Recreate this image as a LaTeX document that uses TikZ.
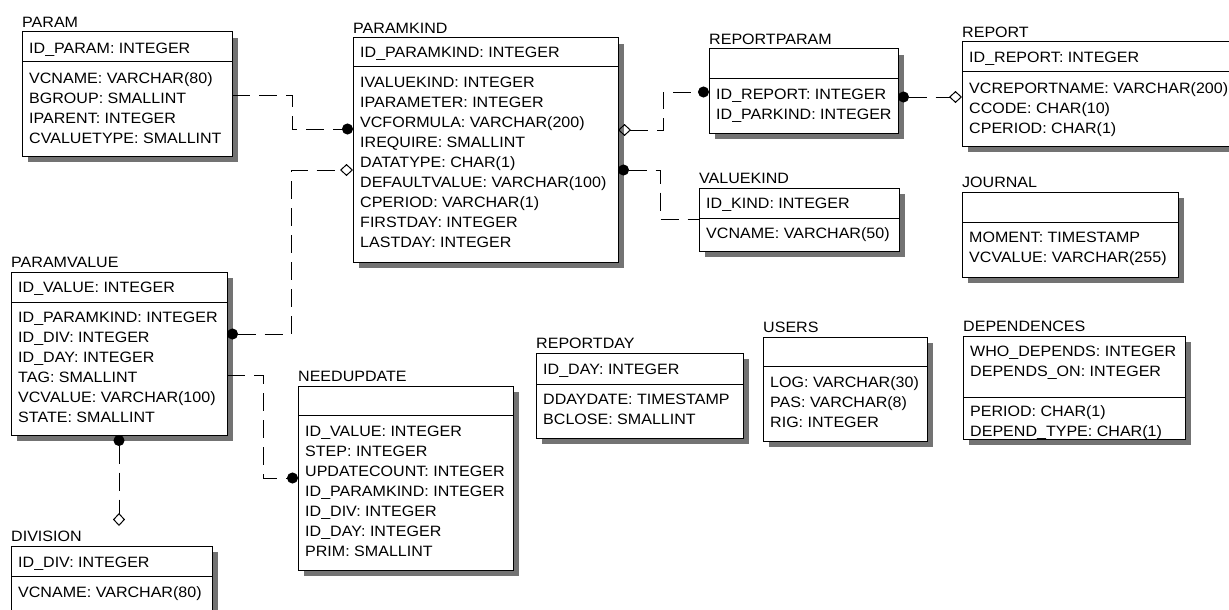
\documentclass[tikz,border=0pt]{standalone}
\usepackage{fontspec}
\setmainfont{Liberation Sans}[FakeStretch=1.07]
\usetikzlibrary{arrows.meta}
\tikzset{
 tblbox/.style={draw=black, fill=white, line width=1pt, inner sep=0pt, outer sep=0pt},
 sepline/.style={line width=1pt},
 shadowc/.style={fill=black!55},
 rowtext/.style={anchor=west, inner sep=0pt, text height=10.7pt, text depth=0pt, font=\fontsize{15}{18}\selectfont},
 titletext/.style={rowtext},
 rel/.style={line width=1pt, dash pattern=on 18pt off 9pt},
 pkdot/.tip={Circle[length=11pt]},
 pkdia/.tip={Diamond[open,length=13pt,width=12pt]},
}
\newcommand\erTable[7]{%
 \fill[shadowc] (#2+6,#3+6) rectangle (#4+6,#6+6);
 \node[tblbox, minimum width=#4-#2, minimum height=#6-#3, anchor=north west] (#1) at (#2,#3) {};
 \draw[sepline] (#2,#5) -- (#4,#5);
 \node[titletext] (#1-title) at (#2,#3-10) {#7};
}
\begin{document}
\begin{tikzpicture}[x=1pt,y=-1pt]
\useasboundingbox (0,0) rectangle (1229,610);
\fill[white] (0,0) rectangle (1229,610);
\clip (0,0) rectangle (1229,610);

% PARAM
\erTable{param}{22}{32}{232}{62}{156}{PARAM}
\node[rowtext] (param-k1) at (29,48) {ID\_PARAM: INTEGER};
\node[rowtext] (param-r1) at (29,78) {VCNAME: VARCHAR(80)};
\node[rowtext] (param-r2) at (29,98) {BGROUP: SMALLINT};
\node[rowtext] (param-r3) at (29,118) {IPARENT: INTEGER};
\node[rowtext] (param-r4) at (29,138) {CVALUETYPE: SMALLINT};

% PARAMKIND
\erTable{pk}{353}{38}{618}{67}{262}{PARAMKIND}
\node[rowtext] (pk-k1) at (360,52) {ID\_PARAMKIND: INTEGER};
\node[rowtext] (pk-r1) at (360,82) {IVALUEKIND: INTEGER};
\node[rowtext] (pk-r2) at (360,102) {IPARAMETER: INTEGER};
\node[rowtext] (pk-r3) at (360,122) {VCFORMULA: VARCHAR(200)};
\node[rowtext] (pk-r4) at (360,142) {IREQUIRE: SMALLINT};
\node[rowtext] (pk-r5) at (360,162) {DATATYPE: CHAR(1)};
\node[rowtext] (pk-r6) at (360,182) {DEFAULTVALUE: VARCHAR(100)};
\node[rowtext] (pk-r7) at (360,202) {CPERIOD: VARCHAR(1)};
\node[rowtext] (pk-r8) at (360,222) {FIRSTDAY: INTEGER};
\node[rowtext] (pk-r9) at (360,242) {LASTDAY: INTEGER};

% REPORTPARAM
\erTable{rp}{709}{49}{898}{79}{133}{REPORTPARAM}
\node[rowtext] (rp-r1) at (716,94) {ID\_REPORT: INTEGER};
\node[rowtext] (rp-r2) at (716,114) {ID\_PARKIND: INTEGER};

% REPORT
\erTable{rep}{962}{42}{1240}{72}{146}{REPORT}
\node[rowtext] (rep-k1) at (969,57) {ID\_REPORT: INTEGER};
\node[rowtext] (rep-r1) at (969,88) {VCREPORTNAME: VARCHAR(200)};
\node[rowtext] (rep-r2) at (969,108) {CCODE: CHAR(10)};
\node[rowtext] (rep-r3) at (969,128) {CPERIOD: CHAR(1)};

% JOURNAL
\erTable{jr}{962}{192}{1178}{222}{277}{JOURNAL}
\node[rowtext] (jr-r1) at (969,237) {MOMENT: TIMESTAMP};
\node[rowtext] (jr-r2) at (969,257) {VCVALUE: VARCHAR(255)};

% VALUEKIND
\erTable{vk}{699}{188}{899}{218}{251}{VALUEKIND}
\node[rowtext] (vk-k1) at (706,203) {ID\_KIND: INTEGER};
\node[rowtext] (vk-r1) at (706,233) {VCNAME: VARCHAR(50)};

% PARAMVALUE
\erTable{pv}{11}{272}{227}{302}{435}{PARAMVALUE}
\node[rowtext] (pv-k1) at (18,287) {ID\_VALUE: INTEGER};
\node[rowtext] (pv-r1) at (18,317) {ID\_PARAMKIND: INTEGER};
\node[rowtext] (pv-r2) at (18,337) {ID\_DIV: INTEGER};
\node[rowtext] (pv-r3) at (18,357) {ID\_DAY: INTEGER};
\node[rowtext] (pv-r4) at (18,377) {TAG: SMALLINT};
\node[rowtext] (pv-r5) at (18,397) {VCVALUE: VARCHAR(100)};
\node[rowtext] (pv-r6) at (18,417) {STATE: SMALLINT};

% NEEDUPDATE
\erTable{nu}{298}{386}{513}{415}{570}{NEEDUPDATE}
\node[rowtext] (nu-r1) at (305,431) {ID\_VALUE: INTEGER};
\node[rowtext] (nu-r2) at (305,451) {STEP: INTEGER};
\node[rowtext] (nu-r3) at (305,471) {UPDATECOUNT: INTEGER};
\node[rowtext] (nu-r4) at (305,491) {ID\_PARAMKIND: INTEGER};
\node[rowtext] (nu-r5) at (305,511) {ID\_DIV: INTEGER};
\node[rowtext] (nu-r6) at (305,531) {ID\_DAY: INTEGER};
\node[rowtext] (nu-r7) at (305,551) {PRIM: SMALLINT};

% DIVISION
\erTable{div}{11}{546}{212}{576}{625}{DIVISION}
\node[rowtext] (div-k1) at (18,562) {ID\_DIV: INTEGER};
\node[rowtext] (div-r1) at (18,592) {VCNAME: VARCHAR(80)};

% REPORTDAY
\erTable{rd}{536}{353}{743}{384}{438}{REPORTDAY}
\node[rowtext] (rd-k1) at (543,369) {ID\_DAY: INTEGER};
\node[rowtext] (rd-r1) at (543,399) {DDAYDATE: TIMESTAMP};
\node[rowtext] (rd-r2) at (543,419) {BCLOSE: SMALLINT};

% USERS
\erTable{us}{763}{337}{927}{366}{441}{USERS}
\node[rowtext] (us-r1) at (770,382) {LOG: VARCHAR(30)};
\node[rowtext] (us-r2) at (770,402) {PAS: VARCHAR(8)};
\node[rowtext] (us-r3) at (770,422) {RIG: INTEGER};

% DEPENDENCES
\erTable{dep}{963}{336}{1185}{397}{439}{DEPENDENCES}
\node[rowtext] (dep-k1) at (970,351) {WHO\_DEPENDS: INTEGER};
\node[rowtext] (dep-k2) at (970,371) {DEPENDS\_ON: INTEGER};
\node[rowtext] (dep-r1) at (970,411) {PERIOD: CHAR(1)};
\node[rowtext] (dep-r2) at (970,431) {DEPEND\_TYPE: CHAR(1)};

% connection points
\coordinate (a1) at ([yshift=-63pt]param.north east);
\coordinate (b1) at ([yshift=-91pt]pk.north west);
\coordinate (a2) at ([yshift=-62pt]pv.north east);
\coordinate (b2) at ([yshift=-132pt]pk.north west);
\coordinate (a3) at ([yshift=-92pt]pk.north east);
\coordinate (b3) at ([yshift=-43pt]rp.north west);
\coordinate (a4) at ([yshift=-132pt]pk.north east);
\coordinate (b4) at ([yshift=-31pt]vk.north west);
\coordinate (a5) at ([yshift=-48pt]rp.north east);
\coordinate (b5) at ([yshift=-55pt]rep.north west);
\coordinate (a6) at ([yshift=-103pt]pv.north east);
\coordinate (b6) at ([yshift=-92pt]nu.north west);
\coordinate (a7) at ([xshift=108pt]pv.south west);
\coordinate (b7) at ([xshift=108pt,yshift=20pt]div.north west);

% relationships
\draw[rel, -pkdot] (a1) -- ++(60,0) |- (b1);
\draw[rel, pkdot-pkdia] (a2) -- ++(64,0) |- (b2);
\draw[rel, pkdia-pkdot] (a3) -- ++(45,0) |- (b3);
\draw[rel, pkdot-] (a4) -- ++(42,0) |- (b4);
\draw[rel, pkdot-pkdia] (a5) -- (b5);
\draw[rel, -pkdot] (a6) -- ++(36,0) |- (b6);
\draw[rel, pkdot-pkdia] (a7) -- (b7);
\end{tikzpicture}
\end{document}
